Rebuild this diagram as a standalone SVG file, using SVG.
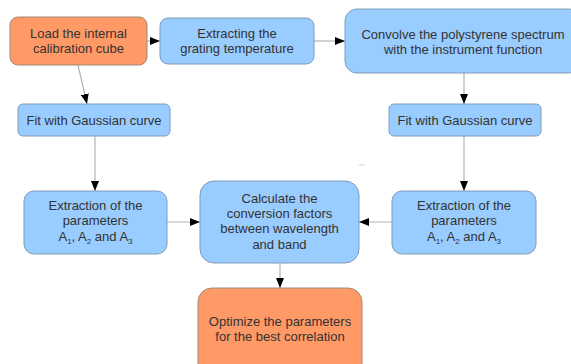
<svg xmlns="http://www.w3.org/2000/svg" width="571" height="364" viewBox="0 0 571 364">
<defs>
<marker id="ah" markerWidth="10" markerHeight="8" refX="10" refY="4" orient="auto" markerUnits="userSpaceOnUse">
<path d="M0,0 L10,4 L0,8 Z" fill="#000"/>
</marker>
<style>
.blue{fill:#99ccff;stroke:#7f9cba;stroke-width:1}
.orange{fill:#ff9966;stroke:#a08878;stroke-width:1}
.t{font-family:"Liberation Sans",Arial,sans-serif;font-size:13px;fill:#333;text-anchor:middle}
.c{stroke:#b4b4b4;stroke-width:1.2;fill:none;marker-end:url(#ah)}
</style>
</defs>
<rect width="571" height="364" fill="#fff"/>
<g id="connectors">
<line class="c" x1="147" y1="41" x2="160" y2="41"/>
<line class="c" x1="314" y1="41" x2="345" y2="41"/>
<line class="c" x1="78" y1="65" x2="87" y2="104"/>
<line class="c" x1="464" y1="73" x2="464" y2="104"/>
<line class="c" x1="95" y1="136" x2="95" y2="191"/>
<line class="c" x1="464" y1="136" x2="464" y2="191"/>
<line class="c" x1="167" y1="222" x2="200" y2="222"/>
<line class="c" x1="392" y1="222" x2="359" y2="222"/>
<line class="c" x1="280" y1="263" x2="280" y2="288"/>
</g>
<line x1="359" y1="165" x2="365" y2="165" stroke="#ccc" stroke-width="1"/>
<g id="n1">
<rect class="orange" x="10" y="17" width="137" height="48" rx="8"/>
<text class="t" x="78.5" y="38">Load the internal</text>
<text class="t" x="78.5" y="53">calibration cube</text>
</g>
<g id="n2">
<rect class="blue" x="160" y="18" width="154" height="46" rx="8"/>
<text class="t" x="237" y="38">Extracting the</text>
<text class="t" x="237" y="53">grating temperature</text>
</g>
<g id="n3">
<rect class="blue" x="345" y="9" width="236" height="64" rx="12"/>
<text class="t" x="463" y="39">Convolve the polystyrene spectrum</text>
<text class="t" x="463" y="54">with the instrument function</text>
</g>
<g id="n4">
<rect class="blue" x="18" y="104" width="152" height="32" rx="5"/>
<text class="t" x="94" y="125">Fit with Gaussian curve</text>
</g>
<g id="n5">
<rect class="blue" x="389" y="104" width="152" height="32" rx="5"/>
<text class="t" x="465" y="125">Fit with Gaussian curve</text>
</g>
<g id="n6">
<rect class="blue" x="24" y="191" width="143" height="63" rx="10"/>
<text class="t" x="95.5" y="210">Extraction of the</text>
<text class="t" x="95.5" y="225">parameters</text>
<text class="t" x="95.5" y="241">A<tspan font-size="8" dy="3">1</tspan><tspan dy="-3">, A</tspan><tspan font-size="8" dy="3">2</tspan><tspan dy="-3"> and A</tspan><tspan font-size="8" dy="3">3</tspan></text>
</g>
<g id="n7">
<rect class="blue" x="200" y="181" width="159" height="82" rx="14"/>
<text class="t" x="279.5" y="203">Calculate the</text>
<text class="t" x="279.5" y="218">conversion factors</text>
<text class="t" x="279.5" y="233">between wavelength</text>
<text class="t" x="279.5" y="249">and band</text>
</g>
<g id="n8">
<rect class="blue" x="392" y="191" width="144" height="63" rx="10"/>
<text class="t" x="464" y="210">Extraction of the</text>
<text class="t" x="464" y="225">parameters</text>
<text class="t" x="464" y="241">A<tspan font-size="8" dy="3">1</tspan><tspan dy="-3">, A</tspan><tspan font-size="8" dy="3">2</tspan><tspan dy="-3"> and A</tspan><tspan font-size="8" dy="3">3</tspan></text>
</g>
<g id="n9">
<rect class="orange" x="198" y="288" width="164" height="90" rx="14"/>
<text class="t" x="280" y="326">Optimize the parameters</text>
<text class="t" x="280" y="341">for the best correlation</text>
</g>
</svg>
